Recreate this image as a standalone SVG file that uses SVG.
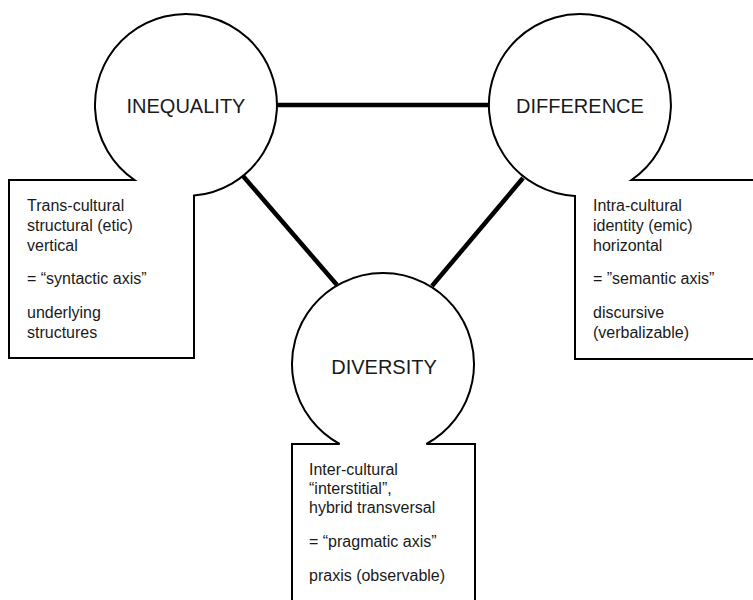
<svg xmlns="http://www.w3.org/2000/svg" width="753" height="600" viewBox="0 0 753 600">
<style>
.shape{fill:#fff;stroke:#000;stroke-width:2;stroke-linejoin:miter}
.conn{stroke:#000;stroke-width:4.5;stroke-linecap:butt}
.title{font-family:"Liberation Sans",Arial,sans-serif;font-size:20px;fill:#1a1a1a;text-anchor:middle}
.body{font-family:"Liberation Sans",Arial,sans-serif;font-size:16px;fill:#1a1a1a}
</style>
<rect width="753" height="600" fill="#fff"/>
<g id="connectors">
<line class="conn" x1="277" y1="105" x2="489" y2="105"/>
<line class="conn" x1="243" y1="176" x2="337" y2="285"/>
<line class="conn" x1="523" y1="178" x2="432" y2="286"/>
</g>
<g id="inequality">
<path class="shape" d="M9 180 L134.5 180 A91 91 0 1 1 194 195.6 L194 358 L9 358 Z"/>
<text class="title" x="186" y="113">INEQUALITY</text>
<text class="body" x="27" y="211">Trans-cultural</text>
<text class="body" x="27" y="231">structural (etic)</text>
<text class="body" x="27" y="251">vertical</text>
<text class="body" x="27" y="284">= “syntactic axis”</text>
<text class="body" x="27" y="318">underlying</text>
<text class="body" x="27" y="338">structures</text>
</g>
<g id="difference">
<path class="shape" d="M575 359 L575 195.9 A91 91 0 1 1 631.5 180 L760 180 L760 359 Z"/>
<text class="title" x="580" y="113">DIFFERENCE</text>
<text class="body" x="593" y="211">Intra-cultural</text>
<text class="body" x="593" y="231">identity (emic)</text>
<text class="body" x="593" y="251">horizontal</text>
<text class="body" x="593" y="284">= ”semantic axis”</text>
<text class="body" x="593" y="318">discursive</text>
<text class="body" x="593" y="338">(verbalizable)</text>
</g>
<g id="diversity">
<path class="shape" d="M292 610 L292 444 L339.6 444 A91 91 0 1 1 426.4 444 L475 444 L475 610 Z"/>
<text class="title" x="384" y="374">DIVERSITY</text>
<text class="body" x="309" y="475">Inter-cultural</text>
<text class="body" x="309" y="494">“interstitial”,</text>
<text class="body" x="309" y="513">hybrid transversal</text>
<text class="body" x="309" y="547">= “pragmatic axis”</text>
<text class="body" x="309" y="581">praxis (observable)</text>
</g>
</svg>
